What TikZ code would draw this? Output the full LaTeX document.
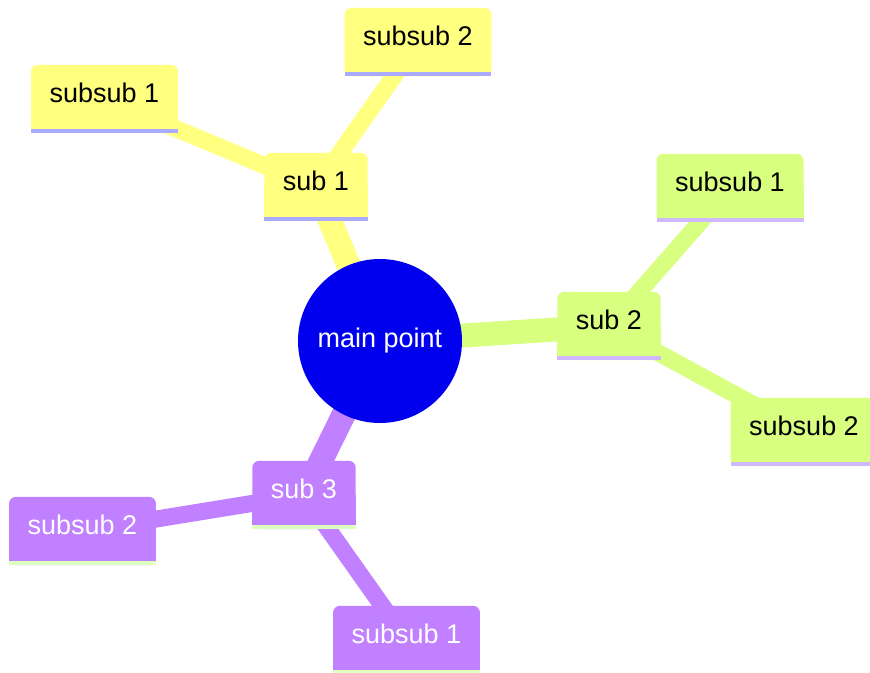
\documentclass[tikz,border=0pt]{standalone}
\usepackage{fontspec}
\setmainfont{Liberation Sans}
\usetikzlibrary{backgrounds}
\definecolor{hubblue}{RGB}{0,0,238}
\definecolor{sunny}{RGB}{255,255,128}
\definecolor{sunnyedge}{RGB}{170,170,255}
\definecolor{lime}{RGB}{217,255,128}
\definecolor{limeedge}{RGB}{208,184,255}
\definecolor{lilac}{RGB}{192,128,255}
\definecolor{lilacedge}{RGB}{221,255,192}

\begin{document}
\begin{tikzpicture}[
			x=1pt, y=-1pt,
			font=\fontsize{27}{31}\selectfont,
			hub/.style={circle,fill=hubblue,text=white,inner sep=0pt,minimum size=164pt},
			topic/.style={inner xsep=18.5pt,inner ysep=0pt,minimum height=68pt,
			text height=20pt,text depth=13pt},
			trunk/.style={line width=24pt},
			twig/.style={line width=17pt}
			]
			\useasboundingbox (0,0) rectangle (870,672);
			\node[hub] (main) at (380,341) {main point};
			% yellow branch
			\node[topic] (s1) at (316,187) {sub 1};
			\node[topic] (s1a) at (104.5,99) {subsub 1};
			\node[topic] (s1b) at (418,42) {subsub 2};
			% green branch
			\node[topic] (s2) at (609,326) {sub 2};
			\node[topic] (s2a) at (730,188) {subsub 1};
			\node[topic] (s2b) at (804,432) {subsub 2};
			% purple branch
			\node[topic, text=white] (s3) at (304,495) {sub 3};
			\node[topic, text=white] (s3a) at (82.5,531) {subsub 2};
			\node[topic, text=white] (s3b) at (406.5,640) {subsub 1};
			\begin{scope}[on background layer]
				\foreach \a/\b/\c in {main/s1/sunny, main/s2/lime, main/s3/lilac}
					\draw[trunk,\c] (\a.center) -- (\b.center);
				\foreach \a/\b/\c in {s1/s1a/sunny, s1/s1b/sunny, s2/s2a/lime,
					s2/s2b/lime, s3/s3a/lilac, s3/s3b/lilac}
					\draw[twig,\c] (\a.center) -- (\b.center);
				\foreach \n/\c/\e in {s1/sunny/sunnyedge, s1a/sunny/sunnyedge,
					s1b/sunny/sunnyedge, s2/lime/limeedge, s2a/lime/limeedge,
					s2b/lime/limeedge, s3/lilac/lilacedge, s3a/lilac/lilacedge,
					s3b/lilac/lilacedge}{
					\fill[\c,rounded corners=7pt] (\n.south west) rectangle (\n.north east);
					\fill[\c] (\n.south west) rectangle (\n.east);
					\fill[\e] (\n.south west) rectangle ([yshift=4pt]\n.south east);
				}
			\end{scope}
		\end{tikzpicture}
\end{document}
